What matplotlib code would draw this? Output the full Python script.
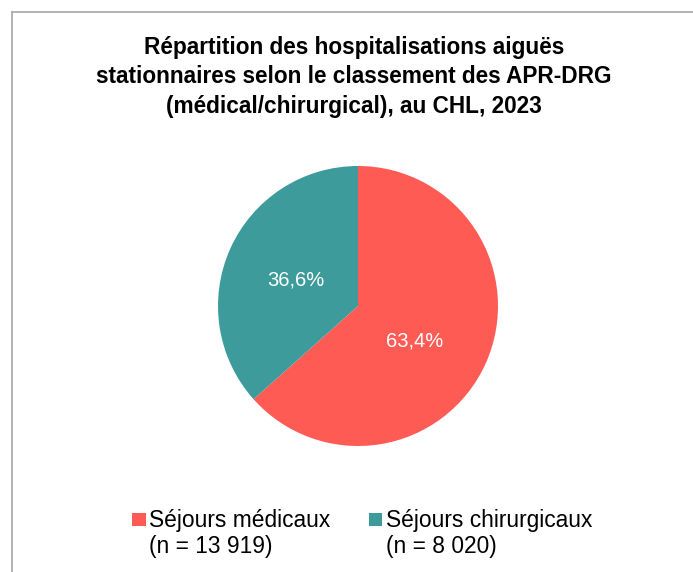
import matplotlib
matplotlib.use("Agg")
import matplotlib.pyplot as plt
from matplotlib.lines import Line2D
from matplotlib.patches import Rectangle

plt.rcParams['font.family'] = ['Liberation Sans', 'DejaVu Sans']

title = "Répartition des hospitalisations aiguës\nstationnaires selon le classement des APR-DRG\n(médical/chirurgical), au CHL, 2023"
categories = ["Séjours médicaux", "Séjours chirurgicaux"]
counts_labels = ["(n = 13 919)", "(n = 8 020)"]
shares = [63.4, 36.6]
colors = ["#FF5B55", "#3D9B9C"]

W, H = 693, 572
fig = plt.figure(figsize=(W / 100, H / 100), dpi=100)

# border (top + left visible)
bx, by = 11.5 / W, 1 - 11.5 / H
fig.add_artist(Line2D([bx, bx], [0, by], color="#A6A6A6", lw=1.2, transform=fig.transFigure))
fig.add_artist(Line2D([bx, 1.01], [by, by], color="#A6A6A6", lw=1.2, transform=fig.transFigure))

# baseline of the last title line
fig.text(354 / W, 1 - 112.5 / H, title, ha="center", va="baseline", fontsize=16.3,
         fontweight="bold", linespacing=1.35, color="#000000", multialignment="center")

# pie axes: center (358, 306), radius 140
cx, cy, r = 358, 306, 140
ax = fig.add_axes([(cx - r) / W, 1 - (cy + r) / H, 2 * r / W, 2 * r / H])
wedges, texts, autotexts = ax.pie(
    shares, colors=colors, startangle=90, counterclock=False,
    autopct=lambda p: f"{p:.1f}%".replace(".", ","), pctdistance=0.48,
    textprops=dict(color="white", fontsize=14.5), radius=1.0,
    wedgeprops=dict(linewidth=0))
# Excel-like label placement
autotexts[0].set_position((0.405, -0.25))
autotexts[1].set_position((-0.443, 0.186))
ax.set_xlim(-1, 1)
ax.set_ylim(-1, 1)
ax.set_aspect("equal")
ax.axis("off")

# legend (manual, marker aligned with first line)
leg_x = [132, 369]
for i, (cat, cnt) in enumerate(zip(categories, counts_labels)):
    x0 = leg_x[i]
    fig.add_artist(Rectangle((x0 / W, 1 - 526 / H), 13.5 / W, 13.5 / H,
                             transform=fig.transFigure, color=colors[i], lw=0))
    fig.text((x0 + 17) / W, 1 - 527.3 / H, cat, ha="left", va="baseline", fontsize=16.4)
    fig.text((x0 + 17) / W, 1 - 553.5 / H, cnt, ha="left", va="baseline", fontsize=16.4)

fig.savefig("out.png", dpi=100, facecolor="white")
